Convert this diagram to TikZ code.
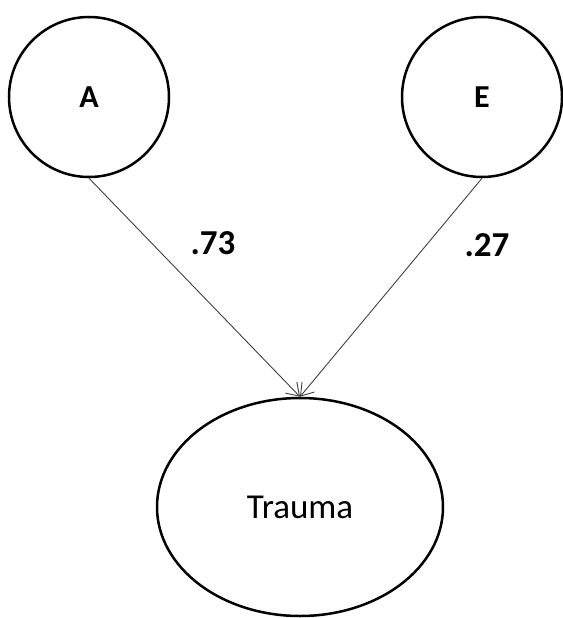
\documentclass[tikz,border=0pt]{standalone}
\usepackage{fontspec}
\setmainfont{Carlito}
\usepackage{tikz}
\usetikzlibrary{shapes.geometric, arrows.meta}
\tikzset{
  factor/.style={circle, draw=black, line width=2.5pt, minimum size=160pt,
    inner sep=0pt, font=\fontsize{32}{38}\selectfont\bfseries},
  rasgo/.style={ellipse, draw=black, line width=2.5pt, minimum width=286pt,
    minimum height=218pt, inner sep=0pt, font=\fontsize{35}{42}\selectfont},
  flecha/.style={-{Straight Barb[length=12pt, width=16pt]}, line width=0.9pt,
    color=black!75},
  etiq/.style={font=\fontsize{35}{42}\selectfont\bfseries}
}
\begin{document}
\begin{tikzpicture}[x=1pt, y=-1pt]
  \useasboundingbox (0,0) rectangle (562,618);
  \node[factor] (A) at (89,97) {A};
  \node[factor] (E) at (482,97) {E};
  \node[rasgo] (T) at (300,507) {Trauma};
  \node[etiq] (l73) at (213,243) {.73};
  \node[etiq] (l27) at (487,245) {.27};
  \draw[flecha] (A.south) -- (T.north);
  \draw[flecha] (E.south) -- (T.north);
\end{tikzpicture}
\end{document}
